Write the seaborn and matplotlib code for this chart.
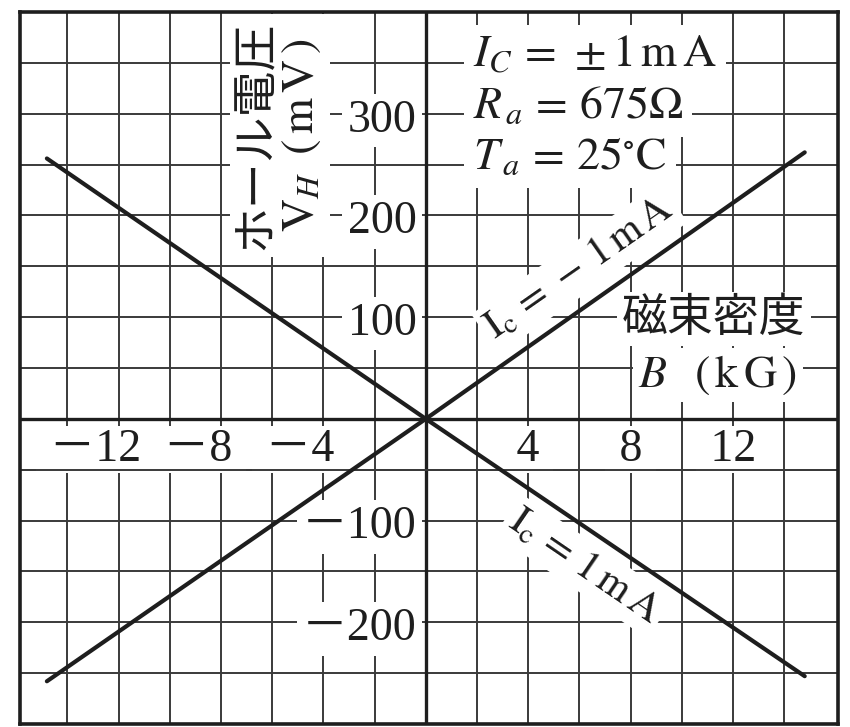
import numpy as np
import pandas as pd
import matplotlib
matplotlib.use("Agg")
import matplotlib.pyplot as plt
import seaborn as sns

# Hall voltage V_H (mV) against magnetic flux density B (kG)
B_kG = [-14.8, 0.0, 14.8]
VH_ic_pos = [256, 0, -253]     # Ic = +1 mA
VH_ic_neg = [-258, 0, 262]     # Ic = -1 mA
current_names = ["+1mA", "-1mA"]

x_ticks = [-12, -8, -4, 4, 8, 12]
x_tick_labels = ["－12", "－8", "－4", "4", "8", "12"]
y_ticks = [300, 200, 100, -100, -200]
y_tick_labels = ["300", "200", "100", "－100", "－200"]

conditions = [r"$I_C\,=\,\pm1\,\mathrm{m\,A}$",
              r"$R_{\,a}\,=\,675\Omega$",
              r"$T_{\,a}\,=\,25^{\circ}\mathrm{C}$"]
condition_rows = [350, 300, 250]

df = pd.DataFrame({
    "B": B_kG * 2,
    "V": VH_ic_pos + VH_ic_neg,
    "Ic": [current_names[0]] * len(B_kG) + [current_names[1]] * len(B_kG),
})

sns.set_theme(style="white")
plt.rcParams["font.family"] = ["Liberation Serif", "Noto Sans CJK JP"]
plt.rcParams["mathtext.fontset"] = "stix"

INK = "#1e1e1e"
GRID = "#3a3a3a"
FS = 33

fig = plt.figure(figsize=(8.5, 7.27), dpi=100)
ax = fig.add_axes([20 / 850, 3 / 727, 818 / 850, 712 / 727])

sns.lineplot(data=df, x="B", y="V", hue="Ic", palette={n: INK for n in current_names},
             linewidth=3.0, legend=False, sort=False, estimator=None, ax=ax, zorder=6)

ax.set_xlim(-15.85, 16.1)
ax.set_ylim(-300, 400)
ax.set_xticks(np.arange(-14, 16, 2))
ax.set_yticks(np.arange(-250, 400, 50))
ax.tick_params(length=0, labelbottom=False, labelleft=False)
ax.set_xlabel("")
ax.set_ylabel("")
ax.grid(True, color=GRID, linewidth=1.4)
ax.set_axisbelow(True)
for s in ax.spines.values():
    s.set_linewidth(2.6)
    s.set_color(INK)
    s.set_visible(True)
    s.set_zorder(7)

# main axes drawn over the label boxes, plus the rule under the B tick row
ax.axhline(0, color=INK, lw=2.4, zorder=4.5)
ax.axvline(0, color=INK, lw=2.4, zorder=4.5)
ax.axhline(-50, color=GRID, lw=1.4, zorder=4.5)

box = dict(boxstyle="square,pad=0.05", fc="white", ec="none")

# x tick labels: digits centred on the tick, sign hanging to the left;
# padded with spaces so the white box widens only sideways
for t, lab in zip(x_ticks, x_tick_labels):
    digits = lab.lstrip("－")
    ax.annotate(" " + lab + " ", xy=(t, -41), xytext=(0.25 * FS * (len(digits) + 1), 0),
                textcoords="offset points", ha="right", va="baseline",
                fontsize=FS, color=INK, bbox=box, zorder=4)

# y tick labels just left of the vertical axis
for t, lab in zip(y_ticks, y_tick_labels):
    ax.text(-0.35, t - 17.5, lab, ha="right", va="baseline", fontsize=FS,
            color=INK, bbox=dict(boxstyle="square,pad=0.12", fc="white", ec="none"),
            zorder=4)

# axis titles
ax.text(-5.7, 279, "ホール電圧\n" + r"$\mathrm{V}_{H}\;\;(\,\mathrm{m\,V}\,)$",
        rotation=90, ha="center", va="center", multialignment="center",
        linespacing=1.05, fontsize=FS, color=INK,
        bbox=dict(boxstyle="square,pad=0.15", fc="white", ec="none"), zorder=4)
ax.text(11.25, 98, "磁束密度", ha="center", va="center", fontsize=FS, color=INK,
        bbox=dict(boxstyle="square,pad=0.12", fc="white", ec="none"), zorder=4)
ax.text(11.4, 43, r"$B\;\;\;(\,\mathrm{k\,G}\,)$", ha="center", va="center",
        fontsize=FS, color=INK,
        bbox=dict(boxstyle="square,pad=0.12", fc="white", ec="none"), zorder=4)

# measurement conditions
for row, txt in zip(condition_rows, conditions):
    ax.text(1.85, row - 4, txt, ha="left", va="baseline", fontsize=FS,
            color=INK, bbox=dict(boxstyle="square,pad=0.2", fc="white", ec="none"),
            zorder=4)

# labels running along each line
def line_angle(v_list):
    p0 = ax.transData.transform((B_kG[0], v_list[0]))
    p1 = ax.transData.transform((B_kG[-1], v_list[-1]))
    return np.degrees(np.arctan2(p1[1] - p0[1], p1[0] - p0[0]))

line_box = dict(boxstyle="square,pad=0.12", fc="white", ec="none")
ax.text(6.0, 148, r"$\mathrm{I_c}\,=\,-\,1\,\mathrm{m\,A}$", rotation=line_angle(VH_ic_neg),
        rotation_mode="anchor", ha="center", va="center", fontsize=30, color=INK,
        bbox=line_box, zorder=4)
ax.text(6.2, -145, r"$\mathrm{I_c}\,=\,1\,\mathrm{m\,A}$", rotation=line_angle(VH_ic_pos),
        rotation_mode="anchor", ha="center", va="center", fontsize=30, color=INK,
        bbox=line_box, zorder=4)

fig.savefig("out.png", dpi=100, facecolor="white")
